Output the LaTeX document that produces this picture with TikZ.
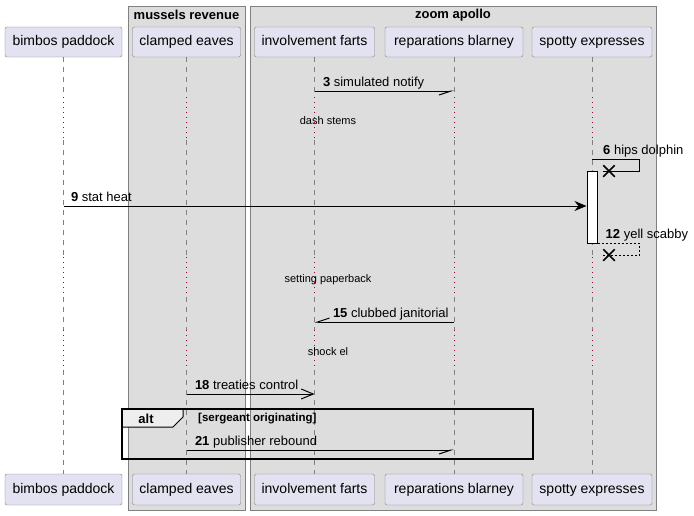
\documentclass[tikz,border=0pt]{standalone}
\usepackage{fontspec}
\setmainfont{Liberation Sans}
\usetikzlibrary{arrows.meta,shapes.misc}
\definecolor{partfill}{HTML}{E2E2F0}
\definecolor{partline}{HTML}{808080}
\definecolor{boxfill}{HTML}{DDDDDD}
\definecolor{delayred}{HTML}{A80036}
\definecolor{tabfill}{HTML}{EEEEEE}
\begin{document}
\begin{tikzpicture}[x=1pt,y=-1pt,
  part/.style={draw=partline,fill=partfill,rounded corners=2pt,minimum height=30pt,inner sep=0pt,text height=10pt,text depth=3pt,font=\fontsize{14}{16}\selectfont},
  grp/.style={draw=partline,fill=boxfill},
  grptitle/.style={font=\fontsize{13}{15}\selectfont\bfseries,inner sep=0pt},
  lifeline/.style={draw=partline,dash pattern=on 5pt off 5pt},
  delayline/.style={draw=delayred,dash pattern=on 1pt off 4pt},
  delaytext/.style={font=\fontsize{11}{13}\selectfont,inner sep=0pt},
  msg/.style={draw=black,line width=1pt},
  reply/.style={msg,dash pattern=on 2pt off 2pt},
  msglabel/.style={font=\fontsize{13}{15}\selectfont,inner sep=0pt,anchor=base west,yshift=5pt},
  destroy/.style={draw,cross out,line width=1.5pt,minimum size=10pt,inner sep=0pt},
  halfhead/.style={-{Straight Barb[harpoon,swap,length=12pt,width=8pt]}},
  openhead/.style={-{Straight Barb[length=12pt,width=10pt]}},
  fullhead/.style={-{Stealth[length=12pt,width=10pt,inset=4pt]}},
  activation/.style={draw,fill=white,line width=1pt,minimum width=10pt,minimum height=72pt,inner sep=0pt}
]
\useasboundingbox (0,0) rectangle (694,515);

% boxes
\draw[grp] (128,6) rectangle (245,510);
\draw[grp] (250,6) rectangle (656,510);
\node[grptitle] (mrTitle) at (186.5,15) {mussels revenue};
\node[grptitle] (zaTitle) at (453,15) {zoom apollo};

% participants
\node[part,minimum width=117pt] (bpT) at (63.5,42) {bimbos paddock};
\node[part,minimum width=108pt] (ceT) at (186.5,42) {clamped eaves};
\node[part,minimum width=120pt] (ifT) at (314.5,42) {involvement farts};
\node[part,minimum width=138pt] (rbT) at (454,42) {reparations blarney};
\node[part,minimum width=120pt] (seT) at (592,42) {spotty expresses};
\node[part,minimum width=117pt,minimum height=31pt] (bpB) at (63.5,489.5) {bimbos paddock};
\node[part,minimum width=108pt,minimum height=31pt] (ceB) at (186.5,489.5) {clamped eaves};
\node[part,minimum width=120pt,minimum height=31pt] (ifB) at (314.5,489.5) {involvement farts};
\node[part,minimum width=138pt,minimum height=31pt] (rbB) at (454,489.5) {reparations blarney};
\node[part,minimum width=120pt,minimum height=31pt] (seB) at (592,489.5) {spotty expresses};

% lifelines
\foreach \p in {bp,ce,if,rb,se}{
  \draw[lifeline] (\p T.south) -- (\p T.south |- 0,97);
  \foreach \a/\b in {140/257,297/330,370/474}
    \draw[lifeline] (\p T.south |- 0,\a) -- (\p T.south |- 0,\b);
  \foreach \a/\b in {97/140,257/297,330/370}
    \draw[delayline] (\p T.south |- 0,\a) -- (\p T.south |- 0,\b);
}

% delays
\node[delaytext] (d1) at (328,121) {dash stems};
\node[delaytext] (d2) at (328,280) {setting paperback};
\node[delaytext] (d3) at (328,352) {shock el};

% message levels
\coordinate (y3) at (0,91);
\coordinate (y6) at (0,159);
\coordinate (y9) at (0,206);
\coordinate (y15) at (0,322);
\coordinate (y18) at (0,394);
\coordinate (y21) at (0,450);

\node[activation] (act) at (592,207) {};
\node[destroy] (x6) at (609,171) {};
\node[destroy] (x12) at (609,255) {};

% messages
\draw[msg,halfhead] (ifT |- y3) -- (rbT |- y3)
  node[msglabel,pos=0,xshift=8pt] {\textbf{3} simulated notify};
\draw[msg] (seT |- y6) -- ++(47,0) |- (x6.west);
\node[msglabel,xshift=11pt] (l6) at (seT |- y6) {\textbf{6} hips dolphin};
\draw[msg,fullhead] (bpT |- y9) -- (act.west |- y9)
  node[msglabel,pos=0,xshift=7pt] {\textbf{9} stat heat};
\draw[reply] (act.south east) -- ++(42,0) |- (x12.west);
\node[msglabel,xshift=8pt] (l12) at (act.south east) {\textbf{12} yell scabby};
\draw[msg,halfhead] (rbT |- y15) -- (ifT |- y15)
  node[msglabel,pos=1,xshift=18pt] {\textbf{15} clubbed janitorial};
\draw[msg,openhead] (ceT |- y18) -- (ifT |- y18)
  node[msglabel,pos=0,xshift=8pt] {\textbf{18} treaties control};

% alt
\draw[fill=tabfill,line width=1pt] (122,409) -- (183,409) -- (183,417) -- (173,427) -- (122,427);
\draw[line width=2pt] (122,409) rectangle (533,459);
\node[grptitle] (altTag) at (146,419) {alt};
\node[font=\fontsize{11.5}{13}\selectfont\bfseries,inner sep=0pt,anchor=west] (altGuard) at (198,419) {[sergeant originating]};
\draw[msg,halfhead] (ceT |- y21) -- (rbT |- y21)
  node[msglabel,pos=0,xshift=8pt] {\textbf{21} publisher rebound};
\end{tikzpicture}
\end{document}
